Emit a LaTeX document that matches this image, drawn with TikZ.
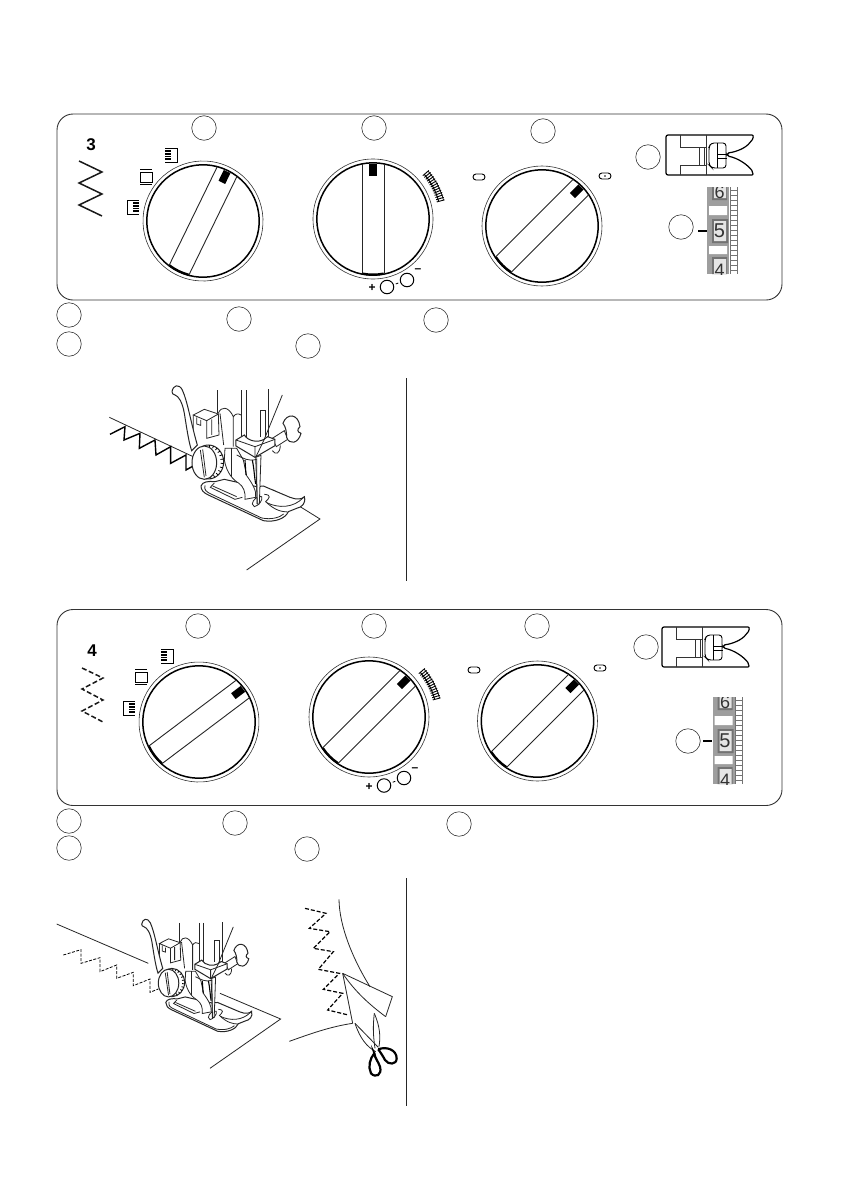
\documentclass[tikz,border=0pt]{standalone}
\usepackage{fontspec}
\setmainfont{Liberation Sans}
\usepackage{xcolor}
\usetikzlibrary{positioning, calc}

\begin{document}
\begin{tikzpicture}[
    x=1pt, y=-1pt,
    ink/.style={line width=.8pt, color=black!85},
    panel/.style={rectangle, draw=black!80, line width=.9pt, rounded corners=16pt, minimum width=725pt, inner sep=0pt},
    callout/.style={circle, draw=black!80, line width=.6pt, minimum size=24.5pt, inner sep=0pt},
    tinyring/.style={circle, draw=black, line width=1pt, minimum size=13.5pt, inner sep=0pt},
    stitchno/.style={font=\bfseries\fontsize{17}{17}\selectfont, inner sep=0pt},
    signmark/.style={font=\bfseries\fontsize{12}{12}\selectfont, inner sep=0pt},
    slotmark/.style={rectangle, draw=black, line width=.9pt, rounded corners=3pt, minimum width=12pt, minimum height=6pt, inner sep=0pt},
    rulerdigit/.style={font=\fontsize{20}{20}\selectfont, text=black!80, inner sep=0pt},
    % Dial with a vertical band, turned by the pic's rotate
    dial/.pic={
        \draw[line width=.6pt, black!80] (0,0) circle (60);
        \draw[line width=1.5pt, fill=white] (0,0) circle (56.2);
        \draw[line width=.9pt, black!85] (-11,-55) -- (-11,55);
        \draw[line width=.9pt, black!85] (11,-55) -- (11,55);
        \draw[line width=2.2pt] (79:55.6) arc[start angle=79, end angle=101, radius=55.6];
        \fill[black] (-3.7,-55) rectangle (3.7,-43);
    },
    % Speed scale over the second dial
    speedscale/.pic={
        \foreach \a in {-15,-17,...,-41} \draw[line width=.9pt] (\a:66) -- (\a:74);
        \draw[line width=1pt] (-15:68) arc[start angle=-15, end angle=-41, radius=68];
        \draw[line width=.7pt] (-15:73) arc[start angle=-15, end angle=-41, radius=73];
    },
    % Width symbols
    widthleft/.pic={
        \draw[line width=.7pt] (-6,-7) -- (6,-7) -- (6,7) -- (-6,7);
        \foreach \t in {-5,-3.4,...,5.2} \draw[line width=.7pt] (-6,\t) -- (0,\t);
    },
    widthmid/.pic={
        \draw[line width=.7pt] (-6,-5) rectangle (6,5);
        \draw[line width=.8pt] (-6,-7.5) -- (6,-7.5) (-6,7.5) -- (6,7.5);
    },
    widthright/.pic={
        \draw[line width=.7pt] (6,-7) -- (-6,-7) -- (-6,7) -- (6,7);
        \foreach \t in {-5,-3.4,...,5.2} \draw[line width=.7pt] (0,\t) -- (6,\t);
    },
    % Foot symbol
    footicon/.pic={
        \draw[line width=1.2pt, rounded corners=2pt] (0,0) -- (84,0) .. controls (88,0) and (87,4) .. (85,6) .. controls (80,13) and (70,17) .. (61,18) -- (61,21) .. controls (72,23) and (82,30) .. (87,37) .. controls (87,40) and (86,40) .. (83,40) -- (0,40) -- cycle;
        \draw[line width=.6pt, black!80] (14,0) -- (14,12) -- (40,12) (14,40) -- (14,30) -- (40,30) (40,0) -- (40,40) (33,12) -- (33,30) (38,12) -- (38,30);
        \draw[line width=.9pt, rounded corners=3pt] (51,8) -- (45,8) -- (43,12) -- (43,30) -- (46,33) -- (60,33) -- (60,8) -- cycle;
        \draw[line width=.7pt] (51,8) -- (51,33) (51,19) -- (61,19) (51,23) -- (61,23);
    },
    % Scale of the needle plate, origin at its top left corner
    plateruler/.pic={
        \fill[black!38] (0,0) rectangle (22,87);
        \fill[white] (2,19) rectangle (20,28) (2,59) rectangle (20,67);
        \fill[black!55] (5,0) rectangle (20,13) (5,32) rectangle (21,56) (5,70) rectangle (20,87);
        \fill[black!10] (7,0) rectangle (19,11) (7,34) rectangle (19,54) (7,72) rectangle (19,87);
        \foreach \t in {3,8,...,85} \draw[line width=.5pt, black!55] (23,\t) -- (30,\t);
        \draw[line width=.5pt, black!55] (23,0) -- (23,87) (30,0) -- (30,87);
        \begin{scope}
            \clip (0,0) rectangle (30,87);
            \node[rulerdigit, font=\fontsize{18}{18}\selectfont] (six) at (12.5,5) {6};
            \node[rulerdigit] (five) at (12.5,44) {5};
            \node[rulerdigit, font=\fontsize{18}{18}\selectfont] (four) at (12.5,83) {4};
        \end{scope}
    },
    % Presser foot and needle, drawn at three times size
    sewfoot/.pic={
        % bar and holder behind
        \draw[ink] (157,30) -- (157,100);
        \draw[ink] (229,30) -- (229,170) (245,30) -- (245,175) (311,28) -- (311,172);
        \draw[ink] (285,170) -- (285,92) -- (302,92) -- (302,172);
        \draw[ink] (160,100) .. controls (168,78) and (190,78) .. (205,110) .. controls (212,100) and (220,100) .. (228,105);
        \draw[ink] (165,100) -- (176,195) (205,110) -- (205,200);
        % block
        \draw[ink, fill=white] (85,105) -- (118,88) -- (160,102) -- (125,122) -- cycle;
        \draw[ink] (85,105) -- (85,150) (125,122) -- (125,175) -- (162,165) -- (160,102);
        \draw[ink] (95,112) -- (95,132) -- (107,136) -- (107,120) (140,118) -- (140,165);
        % sole
        \draw[ink, fill=white, line width=1pt] (108,318) .. controls (112,305) and (130,303) .. (150,305) -- (178,298) -- (275,320) -- (295,318) -- (375,352) .. controls (395,360) and (412,358) .. (418,350) .. controls (424,370) and (410,382) .. (395,385) -- (370,395) .. controls (362,415) and (330,428) .. (295,422) -- (130,345) .. controls (115,338) and (108,330) .. cycle;
        \draw[ink] (120,316) .. controls (116,330) and (125,336) .. (138,342) -- (290,414) .. controls (320,420) and (345,412) .. (356,402);
        \draw[ink] (148,309) -- (136,322) -- (210,358) -- (232,352);
        \draw[ink] (143,318) -- (215,350);
        % hole and toes
        \draw[ink, fill=white] (262,372) .. controls (262,360) and (280,345) .. (290,350) .. controls (295,360) and (280,378) .. (268,380) -- cycle;
        \draw[ink] (298,343) .. controls (322,345) and (312,355) .. (302,365) .. controls (330,392) and (350,395) .. (368,396);
        \draw[ink] (305,368) .. controls (340,385) and (385,385) .. (416,352);
        % ankle
        \draw[ink, fill=white] (180,205) -- (178,240) .. controls (185,280) and (205,300) .. (222,310) .. controls (235,320) and (242,335) .. (240,358) -- (272,352) .. controls (276,335) and (262,310) .. (245,287) -- (235,240) -- (215,205) -- cycle;
        \draw[ink] (200,205) -- (200,292);
        \draw[line width=1.1pt] (240,240) -- (243,285) (262,240) .. controls (268,270) and (268,290) .. (272,312);
        % lever
        \draw[ink, fill=white, line width=1pt] (21,35) .. controls (24,15) and (42,10) .. (52,30) .. controls (68,65) and (78,130) .. (97,195) -- (80,212) .. controls (72,190) and (66,150) .. (58,100) .. controls (52,65) and (40,48) .. (30,45) .. controls (24,44) and (21,40) .. cycle;
        % needle and thread
        \draw[ink, fill=white] (272,232) -- (288,226) -- (283,372) -- (277,372) -- cycle;
        \draw[ink] (275,235) -- (276,372);
        \draw[ink] (215,225) .. controls (235,235) and (250,245) .. (275,238);
        % thumb screw
        \draw[ink, fill=white] (322,175) -- (358,152) -- (368,178) -- (334,200) -- cycle;
        \draw[ink, fill=white, line width=1pt] (354,130) .. controls (365,98) and (400,100) .. (405,140) .. controls (396,148) and (396,156) .. (408,160) .. controls (400,192) and (372,195) .. (365,172) .. controls (365,155) and (362,140) .. (354,130) -- cycle;
        \draw[ink] (322,212) .. controls (332,226) and (345,222) .. (346,196);
        % clamp
        \draw[ink, fill=white, line width=1pt] (213,180) -- (238,165) .. controls (250,185) and (280,188) .. (297,178) -- (308,170) -- (330,178) -- (330,197) -- (270,232) -- (213,198) -- cycle;
        \draw[ink] (213,180) -- (270,200) -- (330,178) (270,200) -- (270,232);
        \draw[ink] (352,45) -- (297,180) -- (272,232);
        % knob
        \draw[ink, fill=white, line width=1pt] (130,246) ellipse[x radius=46, y radius=51];
        \foreach \a in {-85,-70,...,85} \draw[line width=.8pt] ([shift={(\a:37 and 44)}]130,246) -- ([shift={(\a:46 and 51)}]130,246);
        \draw[ink, fill=white, line width=1pt] (118,248) ellipse[x radius=37, y radius=50];
        \draw[ink] (106,210) -- (118,292) (113,208) -- (123,288);
    }
]
    \useasboundingbox (0,0) rectangle (842,1191);
    \fill[white] (0,0) rectangle (842,1191);

    % Upper panel
    \node[panel, minimum height=186pt] (panelA) at (419.5,207) {};
    \node[stitchno] (numA) at (91,145) {3};
    \draw[line width=1.5pt, black!90] (79,161) -- (102,172) -- (79,183) -- (102,194) -- (79,205) -- (102,216);
    \pic at (171,155) {widthleft};
    \pic at (146,177) {widthmid};
    \pic at (133,207) {widthright};
    \pic[rotate=-26] at (203,221) {dial};
    \pic at (373,219) {dial};
    \pic at (373,219) {speedscale};
    \pic[rotate=-45] at (542,226) {dial};
    \node[slotmark] (slotAa) at (479,177) {};
    \node[slotmark] (slotAb) at (605,176) {};
    \fill (605,176) circle (.8);
    \node[signmark] (plusA) at (372,288) {+};
    \node[tinyring] (ringAa) at (387,287) {};
    \node[tinyring] (ringAb) at (407,280) {};
    \node[signmark] (minusA) at (418,271) {–};
    \draw[line width=.8pt, shorten >=2pt, shorten <=2pt] (ringAa) -- (ringAb);
    \node[callout] (dialnoAa) at (204,128) {};
    \node[callout] (dialnoAb) at (374,128) {};
    \node[callout] (dialnoAc) at (543,131) {};
    \node[callout] (footnoA) at (648,157) {};
    \node[callout] (platenoA) at (681,227) {};
    \pic at (666,135) {footicon};
    \pic at (707,187) {plateruler};
    \coordinate (rulerA) at (707,231);
    \draw[line width=1.5pt] (698,231) -- (rulerA);

    % Upper key row
    \node[callout] (keyAa) at (69,315) {};
    \node[callout] (keyAb) at (69,344) {};
    \node[callout] (keyAc) at (239,319) {};
    \node[callout] (keyAd) at (308,346) {};
    \node[callout] (keyAe) at (436,320) {};

    % Upper sewing view
    \draw[line width=.8pt, black!85] (406,378) -- (406,581);
    \begin{scope}[shift={(100,375)}, scale=.3333]
        \draw[ink] (28,127) -- (290,250);
        \draw[ink] (520,345) -- (660,432) -- (440,585);
        \draw[line width=1.4pt] (30,178) -- (75,155) -- (72,195) -- (120,175) -- (118,220) -- (165,195) -- (168,240) -- (212,215) -- (212,265) -- (258,240) -- (258,285) -- (285,270);
    \end{scope}
    \pic[scale=.3333] at (165,380) {sewfoot};

    % Lower panel
    \node[panel, minimum height=196pt] (panelB) at (419.5,707.5) {};
    \node[stitchno] (numB) at (92,651) {4};
    \draw[line width=1.5pt, black!90, dash pattern=on 5pt off 2.5pt] (82,668) -- (103,678) -- (82,689) -- (103,700) -- (82,711) -- (103,722);
    \pic at (167,656) {widthleft};
    \pic at (141,677) {widthmid};
    \pic at (129,708) {widthright};
    \pic[rotate=-53] at (199,722) {dial};
    \pic[rotate=-45] at (369,717) {dial};
    \pic at (369,717) {speedscale};
    \pic[rotate=-45] at (537.5,721) {dial};
    \node[slotmark] (slotBa) at (474,670) {};
    \node[slotmark] (slotBb) at (600,668) {};
    \fill (600,668) circle (.8);
    \node[signmark] (plusB) at (369,787) {+};
    \node[tinyring] (ringBa) at (384,785.5) {};
    \node[tinyring] (ringBb) at (404,778) {};
    \node[signmark] (minusB) at (415,770) {–};
    \draw[line width=.8pt, shorten >=2pt, shorten <=2pt] (ringBa) -- (ringBb);
    \node[callout] (dialnoBa) at (198,626) {};
    \node[callout] (dialnoBb) at (374,626) {};
    \node[callout] (dialnoBc) at (537,626) {};
    \node[callout] (footnoB) at (646,647) {};
    \node[callout] (platenoB) at (688,741) {};
    \pic at (662,627) {footicon};
    \pic at (712.5,697) {plateruler};
    \coordinate (rulerB) at (712,741);
    \draw[line width=1.5pt] (703,741) -- (rulerB);

    % Lower key row
    \node[callout] (keyBa) at (69,821) {};
    \node[callout] (keyBb) at (69,848) {};
    \node[callout] (keyBc) at (235,823) {};
    \node[callout] (keyBd) at (307,849) {};
    \node[callout] (keyBe) at (459,824) {};

    % Lower sewing view
    \draw[line width=.8pt, black!85] (406,878) -- (406,1106);
    \begin{scope}[shift={(50,875)}, scale=.3333]
        \draw[ink] (20,147) -- (295,265);
        \draw[ink] (510,355) -- (692,432) -- (480,580);
        \draw[line width=.8pt, dash pattern=on 3pt off 1.5pt] (40,240) -- (93,224) -- (93,265) -- (150,248) -- (150,290) -- (200,270) -- (200,310) -- (250,292) -- (250,332) -- (300,312) -- (300,352) -- (325,342);
    \end{scope}
    \pic[scale=.2767] at (135.9,914.45) {sewfoot};

    % Trimming view
    \begin{scope}[shift={(280,880)}, scale=.3333]
        \draw[line width=1.2pt, dash pattern=on 4pt off 2pt] (75,85) -- (138,100) -- (88,145) -- (150,155) -- (100,205) -- (160,215) -- (115,268) -- (178,280) -- (130,328) -- (188,340) -- (143,390) -- (205,405);
        \draw[ink] (177,58) .. controls (178,140) and (220,240) .. (270,320);
        \draw[ink] (188,280) -- (337,350) -- (317,410);
        \draw[ink] (188,280) .. controls (225,335) and (270,375) .. (317,410);
        \draw[ink] (188,280) -- (218,430);
        \draw[ink] (218,430) .. controls (150,440) and (90,462) .. (28,484);
        % blades
        \draw[ink] (225,430) .. controls (240,475) and (260,500) .. (287,515);
        \draw[ink] (225,430) -- (295,502);
        \draw[ink] (283,400) .. controls (300,440) and (302,470) .. (297,500);
        \draw[ink] (283,400) .. controls (278,440) and (280,470) .. (285,505);
        % handles
        \draw[line width=2.2pt, fill=white] (295,508) .. controls (320,498) and (350,510) .. (350,535) .. controls (350,555) and (325,555) .. (315,540) .. controls (310,530) and (302,518) .. cycle;
        \draw[line width=2.2pt, fill=white] (283,520) .. controls (270,535) and (263,560) .. (273,580) .. controls (287,595) and (307,585) .. (300,560) .. controls (295,545) and (285,535) .. cycle;
    \end{scope}
\end{tikzpicture}
\end{document}
